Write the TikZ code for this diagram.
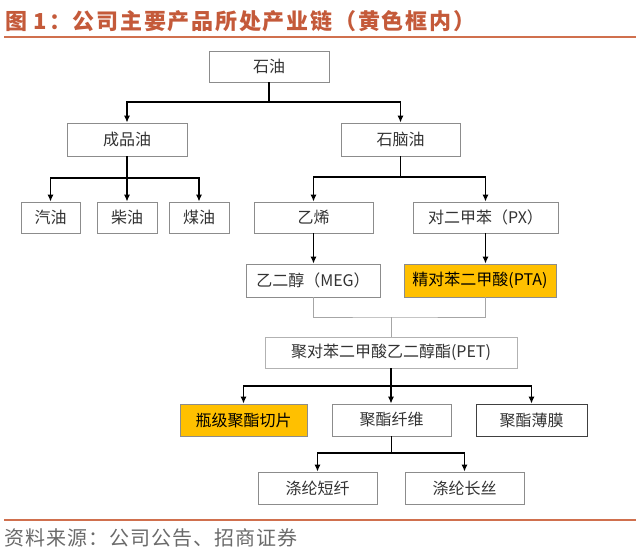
\documentclass[tikz,border=0pt]{standalone}
\usepackage{fontspec}
\setmainfont{Noto Sans CJK SC}
\usetikzlibrary{arrows.meta}
\definecolor{titlec}{HTML}{C45A3A}
\definecolor{rulec}{HTML}{D0704E}
\definecolor{boxc}{HTML}{8C8C8C}
\definecolor{txtc}{HTML}{333333}
\definecolor{yel}{HTML}{FFC000}
\definecolor{footc}{HTML}{6A6A6A}
\tikzset{
  box/.style={draw=boxc, line width=0.8pt, fill=white, inner sep=0pt, text=txtc, font=\fontsize{16}{18}\selectfont},
  hl/.style={box, fill=yel, text=black},
  arr/.style={line width=1.2pt, black, -{Latex[length=7pt,width=6pt]}},
  ln/.style={line width=1.2pt, black},
  gl/.style={line width=0.9pt, draw=black!35},
}
\begin{document}
\begin{tikzpicture}[x=1pt,y=-1pt]
\useasboundingbox (0,0) rectangle (640,548);
% title
\node[anchor=west, text=titlec, font=\fontsize{22}{24}\selectfont\bfseries\addfontfeature{LetterSpace=8}, inner sep=0pt] (title) at (5,21) {图 1：公司主要产品所处产业链（黄色框内）};
\draw[rulec, line width=1.6pt] (4,37) -- (636,37);
% boxes
\node[box, minimum width=120pt, minimum height=31pt] (oil) at (269,66.5) {石油};
\node[box, minimum width=120pt, minimum height=33pt] (cpy) at (127,139.5) {成品油};
\node[box, minimum width=119pt, minimum height=33pt] (snao) at (400.5,139.5) {石脑油};
\node[box, minimum width=59pt, minimum height=31pt] (qy) at (50.5,217.5) {汽油};
\node[box, minimum width=60pt, minimum height=31pt] (cy) at (127,217.5) {柴油};
\node[box, minimum width=60pt, minimum height=31pt] (my) at (199,217.5) {煤油};
\node[box, minimum width=119pt, minimum height=31pt] (yx) at (313.5,217.5) {乙烯};
\node[box, minimum width=145pt, minimum height=31pt] (px) at (485.5,217.5) {对二甲苯（PX）};
\node[box, minimum width=134pt, minimum height=33pt] (meg) at (313,280.5) {乙二醇（MEG）};
\node[hl, minimum width=152pt, minimum height=33pt] (pta) at (480,280.5) {精对苯二甲酸(PTA)};
\node[box, draw=black!30, minimum width=252pt, minimum height=31pt] (pet) at (391,352.5) {聚对苯二甲酸乙二醇酯(PET)};
\node[hl, minimum width=127pt, minimum height=32pt] (pz) at (243.5,420) {瓶级聚酯切片};
\node[box, minimum width=119pt, minimum height=32pt] (jx) at (391.5,420) {聚酯纤维};
\node[box, draw=black!75, minimum width=111pt, minimum height=32pt] (bm) at (531.5,420) {聚酯薄膜};
\node[box, minimum width=119pt, minimum height=32pt] (dd) at (317.5,488) {涤纶短纤};
\node[box, minimum width=119pt, minimum height=32pt] (dc) at (464.5,488) {涤纶长丝};
% bus levels
\coordinate (b1) at (0,102);
\coordinate (b2) at (0,178);
\coordinate (b3) at (0,177);
\coordinate (b4) at (0,317);
\coordinate (b5) at (0,386);
\coordinate (b6) at (0,453);
% connectors
\draw[ln] (oil.south) -- (oil.south |- b1);
\draw[arr] (oil.south |- b1) -| (cpy.north);
\draw[arr] (oil.south |- b1) -| (snao.north);
\draw[arr] (cpy.south) -- (cy.north);
\draw[arr] (cpy.south |- b2) -| (qy.north);
\draw[arr] (cpy.south |- b2) -| (my.north);
\draw[ln] (snao.south) -- (snao.south |- b3);
\draw[arr] (snao.south |- b3) -| (yx.north);
\draw[arr] (snao.south |- b3) -| (px.north);
\draw[arr] (yx.south) -- (meg.north -| yx.south);
\draw[arr] (px.south) -- (pta.north -| px.south);
\draw[gl] (meg.south -| yx.south) |- (pet.north |- b4) -| (pta.south -| px.south);
\draw[gl] (pet.north |- b4) -- (pet.north);
\draw[arr] (pet.south) -- (jx.north -| pet.south);
\draw[arr] (pet.south |- b5) -| (pz.north);
\draw[arr] (pet.south |- b5) -| (bm.north);
\draw[ln] (jx.south) -- (jx.south |- b6);
\draw[arr] (jx.south |- b6) -| (dd.north);
\draw[arr] (jx.south |- b6) -| (dc.north);
% footer
\draw[rulec, line width=1.6pt] (4,520) -- (636,520);
\node[anchor=west, text=footc, font=\fontsize{20}{22}\selectfont\addfontfeature{LetterSpace=5}, inner sep=0pt] (src) at (4,538) {资料来源：公司公告、招商证券};
\end{tikzpicture}
\end{document}
